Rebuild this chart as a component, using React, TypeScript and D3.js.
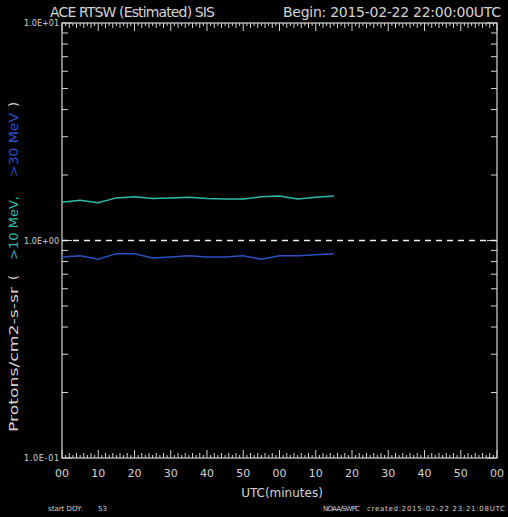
import React from "react";
import * as d3 from "d3";

// 5-minute samples starting 22:00 UTC
const minutes = [0, 5, 10, 15, 20, 25, 30, 35, 40, 45, 50, 55, 60, 65, 70, 75];
const protons10 = [1.50, 1.53, 1.49, 1.57, 1.59, 1.56, 1.57, 1.58, 1.56, 1.55, 1.55, 1.59, 1.60, 1.55, 1.58, 1.60];
const protons30 = [0.84, 0.85, 0.82, 0.87, 0.87, 0.83, 0.84, 0.85, 0.84, 0.84, 0.85, 0.82, 0.85, 0.85, 0.86, 0.87];
const xTickLabels = ["00", "10", "20", "30", "40", "50", "00", "10", "20", "30", "40", "50", "00"];
const yTickLabels = ["1.0E-01", "1.0E+00", "1.0E+01"];
const yTickValues = [0.1, 1, 10];

const W = 508;
const H = 517;
const L = 62, R = 497, T = 23, B = 458;
const FG = "#d4d4d4";
const CYAN = "#31b9a9";
const BLUE = "#2b50c4";
const FONT = "'DejaVu Sans', sans-serif";

export default function App() {
  const x = d3.scaleLinear().domain([0, 120]).range([L, R]);
  const y = d3.scaleLog().domain([0.1, 10]).range([B, T]);

  const line = d3
    .line<number>()
    .x((_, i) => x(minutes[i]))
    .y((d) => y(d));

  // minor log ticks 2..9 in each decade
  const minorY: number[] = [];
  [0.1, 1].forEach((dec) => {
    for (let k = 2; k <= 9; k++) minorY.push(dec * k);
  });

  const xTicks: { m: number; len: number }[] = [];
  for (let m = 0; m <= 120; m++) {
    const len = m % 10 === 0 ? 8 : m % 2 === 0 ? 5 : 3;
    xTicks.push({ m, len });
  }

  return (
    <svg
      width={W}
      height={H}
      style={{ position: "absolute", left: 0, top: 0, background: "#000" }}
    >
      <rect x={0} y={0} width={W} height={H} fill="#000" />

      <text x={50} y={17} fill={FG} fontFamily={FONT} fontSize={14} textLength={165}>
        ACE RTSW (Estimated) SIS
      </text>
      <text x={283} y={17} fill={FG} fontFamily={FONT} fontSize={14} textLength={218}>
        Begin: 2015-02-22 22:00:00UTC
      </text>

      {/* frame */}
      <rect x={L} y={T} width={R - L} height={B - T} fill="none" stroke={FG} strokeWidth={1.2} />

      {/* x ticks on top and bottom */}
      {xTicks.map((t) => (
        <g key={"xt" + t.m}>
          <line x1={x(t.m)} x2={x(t.m)} y1={B} y2={B - t.len} stroke={FG} strokeWidth={1} />
          <line x1={x(t.m)} x2={x(t.m)} y1={T} y2={T + t.len} stroke={FG} strokeWidth={1} />
        </g>
      ))}

      {/* y ticks on left and right */}
      {minorY.map((v) => (
        <g key={"yt" + v}>
          <line x1={L} x2={L + 6} y1={y(v)} y2={y(v)} stroke={FG} strokeWidth={1} />
          <line x1={R} x2={R - 6} y1={y(v)} y2={y(v)} stroke={FG} strokeWidth={1} />
        </g>
      ))}
      {yTickValues.map((v) => (
        <g key={"ym" + v}>
          <line x1={L} x2={L + 10} y1={y(v)} y2={y(v)} stroke={FG} strokeWidth={1} />
          <line x1={R} x2={R - 10} y1={y(v)} y2={y(v)} stroke={FG} strokeWidth={1} />
        </g>
      ))}

      {/* y tick labels */}
      {yTickValues.map((v, i) => (
        <text
          key={"yl" + v}
          x={L - 3}
          y={y(v) + 3}
          textAnchor="end"
          fill={FG}
          fontFamily={FONT}
          fontSize={8}
          textLength={35}
        >
          {yTickLabels[i]}
        </text>
      ))}

      {/* x tick labels */}
      {xTickLabels.map((s, i) => (
        <text
          key={"xl" + i}
          x={x(i * 10)}
          y={477}
          textAnchor="middle"
          fill={FG}
          fontFamily={FONT}
          fontSize={11}
        >
          {s}
        </text>
      ))}

      <text x={282} y={497} textAnchor="middle" fill={FG} fontFamily={FONT} fontSize={12}>
        UTC(minutes)
      </text>
      <text x={48} y={511} fill={FG} fontFamily={FONT} fontSize={7}>
        start DOY:
      </text>
      <text x={98} y={511} fill={FG} fontFamily={FONT} fontSize={7}>
        53
      </text>
      <text x={323} y={511} fill={FG} fontFamily={FONT} fontSize={7} textLength={37}>
        NOAA/SWPC
      </text>
      <text x={367} y={511} fill={FG} fontFamily={FONT} fontSize={7} textLength={138}>
        created:2015-02-22 23:21:08UTC
      </text>

      {/* y-axis title, drawn bottom to top */}
      <g transform="translate(18,432) rotate(-90)" fontFamily={FONT} fontSize={13}>
        <text x={0} y={0} fill={FG} textLength={145} lengthAdjust="spacingAndGlyphs">
          Protons/cm2-s-sr
        </text>
        <text x={152} y={0} fill={FG}>(</text>
        <text x={172} y={0} fill={CYAN} textLength={64} lengthAdjust="spacingAndGlyphs">
          &gt;10 MeV,
        </text>
        <text x={255} y={0} fill={BLUE} textLength={64} lengthAdjust="spacingAndGlyphs">
          &gt;30 MeV
        </text>
        <text x={325} y={0} fill={FG}>)</text>
      </g>

      {/* reference level at 1.0 */}
      <line
        x1={L}
        x2={R}
        y1={y(1)}
        y2={y(1)}
        stroke="#f0f0f0"
        strokeWidth={1.5}
        strokeDasharray="6 5"
      />

      <path d={line(protons10) ?? ""} fill="none" stroke={CYAN} strokeWidth={1.5} />
      <path d={line(protons30) ?? ""} fill="none" stroke={BLUE} strokeWidth={1.5} />
    </svg>
  );
}
